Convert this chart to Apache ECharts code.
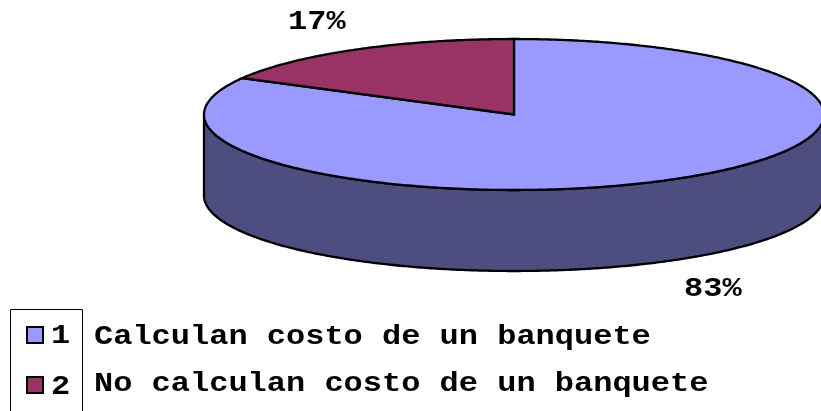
<!DOCTYPE html>
<html><head><meta charset="utf-8">
<style>html,body{margin:0;padding:0;background:#fff}#c{width:821px;height:411px}</style>
<script src="https://cdn.jsdelivr.net/npm/echarts@6/dist/echarts.min.js"></script>
</head><body><div id="c"></div>
<script>
const categories = ['Calculan costo de un banquete', 'No calculan costo de un banquete'];
const legendCodes = ['1', '2'];
const values = [83, 17];
const topColors = ['#9999FF', '#993366'];
const sideColors = ['#4D4D80', '#4D1A33'];

const CX = 514, CY = 114.5, RX = 310, RY = 75.5, DEPTH = 81;
const labelPos = [[684, 276], [288, 9]];
const FONT = '"Liberation Mono", monospace';
const LABEL_SCALE = 1.185;
const FONT_PX = 27;
const LINE = 2.3;
const total = values.reduce((a, b) => a + b, 0);

function pt(f, dy) {
  const t = f * 2 * Math.PI;
  return [CX + RX * Math.sin(t), CY - RY * Math.cos(t) + (dy || 0)];
}
function arc(f0, f1, dy) {
  const n = Math.max(2, Math.ceil((f1 - f0) * 720)), out = [];
  for (let i = 0; i <= n; i++) out.push(pt(f0 + (f1 - f0) * i / n, dy));
  return out;
}
function startOf(idx) {
  let s = 0;
  for (let i = 0; i < idx; i++) s += values[i];
  return s / total;
}
function renderSlice(params, api) {
  const i = params.dataIndex;
  const f0 = startOf(i), f1 = f0 + api.value(0) / total;
  const children = [];
  const a = Math.max(f0, 0.25), b = Math.min(f1, 0.75);
  if (b > a) {
    children.push({
      type: 'polygon',
      shape: { points: arc(a, b, 0).concat(arc(a, b, DEPTH).reverse()) },
      style: { fill: sideColors[i], stroke: '#000', lineWidth: LINE, lineJoin: 'round' }
    });
  }
  children.push({
    type: 'polygon',
    shape: { points: [[CX, CY]].concat(arc(f0, f1, 0)) },
    style: { fill: topColors[i], stroke: '#000', lineWidth: LINE, lineJoin: 'miter' }
  });
  children.push({
    type: 'text', x: labelPos[i][0], y: labelPos[i][1], scaleX: LABEL_SCALE,
    style: { text: Math.round(api.value(0) / total * 100) + '%', fill: '#000',
      font: 'bold ' + FONT_PX + 'px ' + FONT, align: 'left', verticalAlign: 'top' }
  });
  return { type: 'group', children };
}

const legendGraphic = [
  { type: 'polyline', shape: { points: [[10.5, 411], [10.5, 309.5], [82.5, 309.5], [82.5, 411]] },
    style: { fill: null, stroke: '#000', lineWidth: 1 } }
];
const codeY = [336, 387];
const nameY = [337, 384];
const swatchY = [327, 377];
categories.forEach((name, i) => {
  legendGraphic.push({ type: 'rect', shape: { x: 27, y: swatchY[i], width: 16, height: 16 },
    style: { fill: topColors[i], stroke: '#000', lineWidth: 2 } });
  legendGraphic.push({ type: 'text', x: 51, y: codeY[i], scaleX: LABEL_SCALE,
    style: { text: legendCodes[i], fill: '#000', font: 'bold ' + FONT_PX + 'px ' + FONT, align: 'left', verticalAlign: 'middle' } });
  legendGraphic.push({ type: 'text', x: 94, y: nameY[i], scaleX: LABEL_SCALE,
    style: { text: name, fill: '#000', font: 'bold ' + FONT_PX + 'px ' + FONT, align: 'left', verticalAlign: 'middle' } });
});

const chart = echarts.init(document.getElementById('c'), null, { renderer: 'canvas' });
chart.setOption({
  animation: false,
  backgroundColor: '#fff',
  series: [{
    type: 'custom',
    coordinateSystem: 'none',
    renderItem: renderSlice,
    clip: false,
    data: values.map((v, i) => ({ name: categories[i], value: [v] }))
  }],
  graphic: legendGraphic
});
</script></body></html>
